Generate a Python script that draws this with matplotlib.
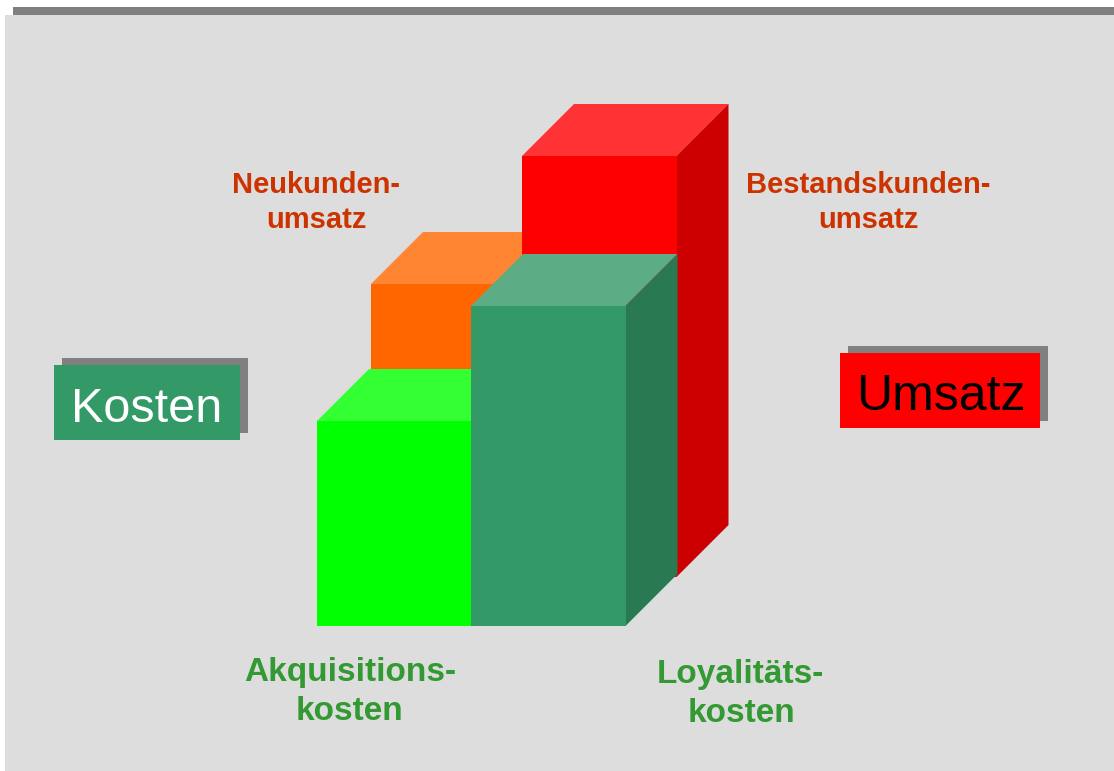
import matplotlib.pyplot as plt
from matplotlib.patches import Polygon, Rectangle

plt.rcParams['font.family'] = ['Liberation Sans', 'DejaVu Sans']

# Bar heights (back row first, drawing order)
categories = ['Neukundenumsatz', 'Bestandskundenumsatz', 'Akquisitionskosten', 'Loyalitaetskosten']
values = [293, 421, 205, 320]

bar_left = [371, 522, 317, 471]
bar_base = [577, 577, 626, 626]
bar_width = 154.5
depth = 52

front_colors = ['#FF6600', '#FF0000', '#00FF00', '#339966']
top_colors = ['#FF8533', '#FF3333', '#33FF33', '#5CAD85']
side_colors = ['#CC5200', '#CC0000', '#00CC00', '#297A52']

fig = plt.figure(figsize=(11.14, 7.71), dpi=100, facecolor='white')
ax = fig.add_axes([0, 0, 1, 1])
ax.set_xlim(0, 1114)
ax.set_ylim(771, 0)
ax.axis('off')

# Background panel and the grey strip above it
ax.add_patch(Rectangle((13, 7), 1101, 8, color='#808080', lw=0))
ax.add_patch(Rectangle((5, 15), 1109, 756, color='#DDDDDD', lw=0))


def draw_box(left, base, height, front, top, side):
    y_top = base - height
    right = left + bar_width
    ax.add_patch(Polygon([(left, y_top), (right, y_top), (right + depth, y_top - depth),
                          (left + depth, y_top - depth)], closed=True, color=top, lw=0))
    ax.add_patch(Polygon([(right, y_top), (right + depth, y_top - depth),
                          (right + depth, base - depth), (right, base)], closed=True, color=side, lw=0))
    ax.add_patch(Rectangle((left, y_top), bar_width, height, color=front, lw=0))


for i in range(len(values)):
    draw_box(bar_left[i], bar_base[i], values[i], front_colors[i], top_colors[i], side_colors[i])

# Kosten / Umsatz boxes with shadow
ax.add_patch(Rectangle((62, 358), 186, 75, color='#808080', lw=0))
ax.add_patch(Rectangle((54, 365), 186, 75, color='#339966', lw=0))
ax.text(147, 409, 'Kosten', color='white', fontsize=35, ha='center', va='center')

ax.add_patch(Rectangle((848, 346), 200, 75, color='#808080', lw=0))
ax.add_patch(Rectangle((840, 353), 200, 75, color='#FF0000', lw=0))
ax.text(941, 397, 'Umsatz', color='black', fontsize=36, ha='center', va='center')

# Labels
red_text = '#CC3300'
green_text = '#339933'
ax.text(316, 185, 'Neukunden-', color=red_text, fontsize=21, fontweight='bold', ha='center', va='center')
ax.text(316, 220, 'umsatz', color=red_text, fontsize=21, fontweight='bold', ha='center', va='center')
ax.text(868, 185, 'Bestandskunden-', color=red_text, fontsize=21, fontweight='bold', ha='center', va='center')
ax.text(868, 220, 'umsatz', color=red_text, fontsize=21, fontweight='bold', ha='center', va='center')
ax.text(350, 673, 'Akquisitions-', color=green_text, fontsize=24, fontweight='bold', ha='center', va='center')
ax.text(350, 712, 'kosten', color=green_text, fontsize=24, fontweight='bold', ha='center', va='center')
ax.text(740, 675, 'Loyalitäts-', color=green_text, fontsize=24, fontweight='bold', ha='center', va='center')
ax.text(741, 714, 'kosten', color=green_text, fontsize=24, fontweight='bold', ha='center', va='center')

fig.savefig('out.png', dpi=100)
